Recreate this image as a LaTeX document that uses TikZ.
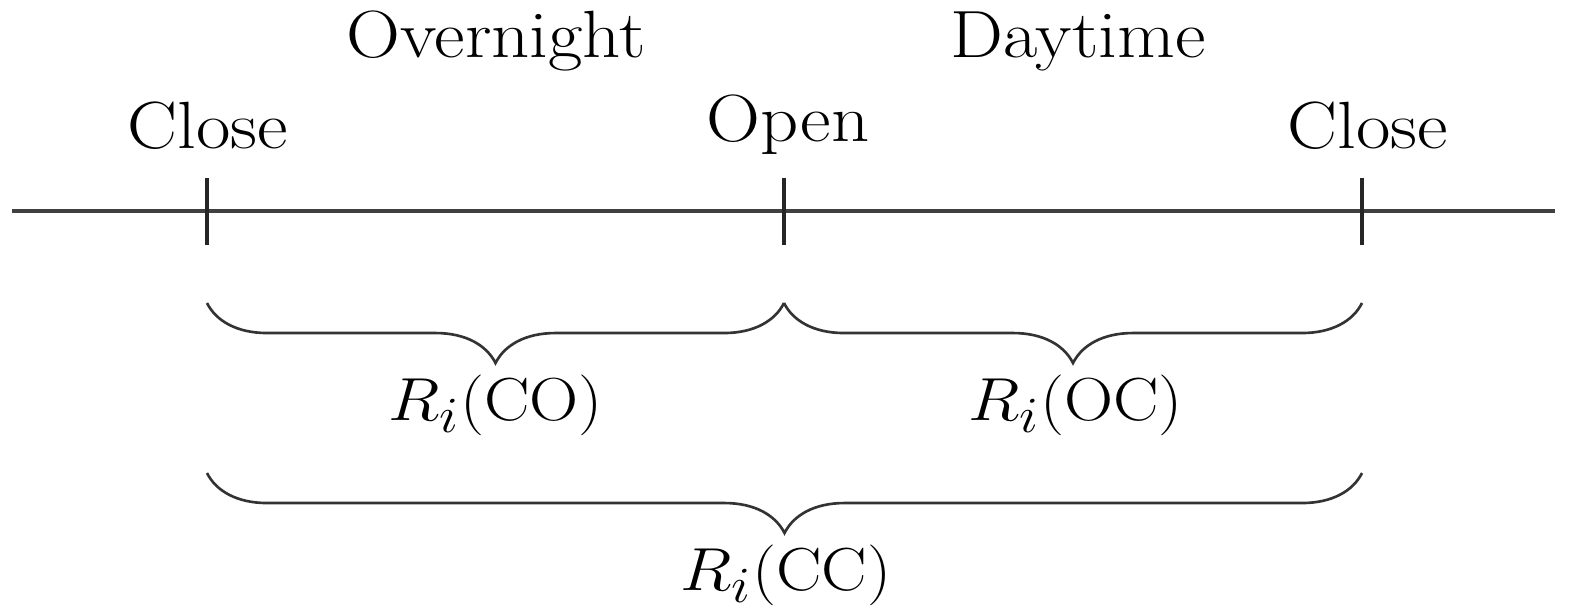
\documentclass[tikz,border=0pt]{standalone}
\usetikzlibrary{decorations.pathreplacing}
\begin{document}
\begin{tikzpicture}[x=0.01cm,y=-0.01cm,
  lbl/.style={font=\fontsize{19}{23}\selectfont, inner sep=0pt, anchor=base, xscale=1.12},
  axis/.style={line width=1.2pt, draw=black!75},
  tick/.style={line width=1pt, draw=black!85},
  brc/.style={decorate, decoration={brace, mirror, amplitude=0.6cm}, line width=0.75pt, draw=black!80}]
\useasboundingbox (0,0) rectangle (1573,614);
% axis
\coordinate (L) at (12,211);
\coordinate (R) at (1555,211);
\draw[axis] (L) -- (R);
% ticks
\coordinate (t1a) at (207,178); \coordinate (t1b) at (207,245);
\coordinate (t2a) at (784,178); \coordinate (t2b) at (784,245);
\coordinate (t3a) at (1362,178); \coordinate (t3b) at (1362,245);
\draw[tick] (t1a) -- (t1b);
\draw[tick] (t2a) -- (t2b);
\draw[tick] (t3a) -- (t3b);
% labels
\node[lbl] (close1) at (208,148) {Close};
\node[lbl] (open) at (788,141) {Open};
\node[lbl] (close2) at (1368,148) {Close};
\node[lbl] (over) at (496,57) {Overnight};
\node[lbl] (day) at (1078,57) {Daytime};
% braces
\coordinate (b1a) at (207,303); \coordinate (b1b) at (784,303);
\coordinate (b2b) at (1362,303);
\coordinate (b3a) at (207,473); \coordinate (b3b) at (1362,473);
\draw[brc] (b1a) -- (b1b);
\draw[brc] (b1b) -- (b2b);
\draw[brc] (b3a) -- (b3b);
\node[lbl] (rco) at (496,420) {$R_i(\mathrm{CO})$};
\node[lbl] (roc) at (1076,420) {$R_i(\mathrm{OC})$};
\node[lbl] (rcc) at (786,590) {$R_i(\mathrm{CC})$};
\end{tikzpicture}
\end{document}
